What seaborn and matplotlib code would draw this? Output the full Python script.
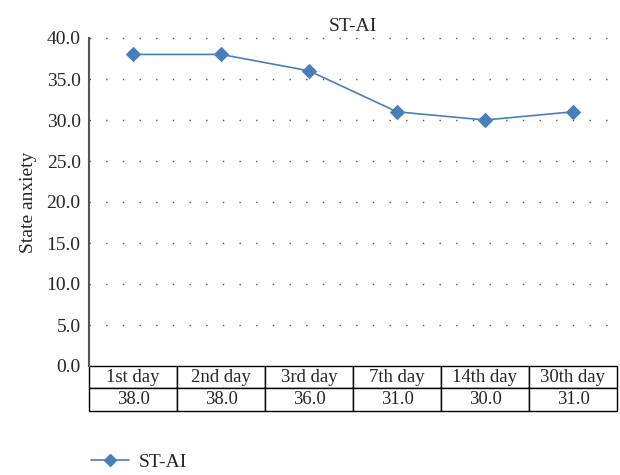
import matplotlib
matplotlib.use("Agg")
import matplotlib.pyplot as plt
import seaborn as sns
import pandas as pd
from matplotlib.lines import Line2D

# data
days = ["1st day", "2nd day", "3rd day", "7th day", "14th day", "30th day"]
state_anxiety = [38.0, 38.0, 36.0, 31.0, 30.0, 31.0]
series_name = "ST-AI"
y_ticks = [0, 5, 10, 15, 20, 25, 30, 35, 40]

sns.set_style("white")
plt.rcParams['font.family'] = ['Liberation Serif', 'DejaVu Serif']

line_color = "#4a7ebb"
fs = 14

fig = plt.figure(figsize=(6.2, 4.75), dpi=100)
ax = fig.add_axes([89 / 620, 1 - 366 / 475, 528 / 620, 328 / 475])

df = pd.DataFrame({"day": days, "value": state_anxiety})
sns.lineplot(data=df, x="day", y="value", ax=ax, color=line_color,
             marker="D", markersize=7, markeredgecolor=line_color,
             linewidth=1.2, sort=False)

ax.set_xlim(-0.5, len(days) - 0.5)
ax.set_ylim(0, 40)
ax.set_yticks(y_ticks)
ax.set_yticklabels([f"{v:.1f}" for v in y_ticks], fontsize=fs)
ax.set_xticks([])
ax.set_xlabel("")
ax.set_ylabel("State anxiety", fontsize=fs, labelpad=7)
ax.set_title(series_name, fontsize=fs, pad=5)
ax.tick_params(axis='y', length=0, pad=6)

# dotted horizontal gridlines
for v in y_ticks[1:]:
    ax.axhline(v, color="#555555", linestyle=(0, (1, 11)), linewidth=1.0,
               zorder=0, clip_on=False)

for side in ["top", "right", "bottom"]:
    ax.spines[side].set_visible(False)
ax.spines["left"].set_color("#555555")
ax.spines["left"].set_linewidth(1.5)

# data table under the axis
tbl = ax.table(cellText=[days, [f"{v:.1f}" for v in state_anxiety]],
               cellLoc="center", bbox=[0, -0.137, 1, 0.137])
tbl.auto_set_font_size(False)
tbl.set_fontsize(13.5)
for cell in tbl.get_celld().values():
    cell.set_edgecolor("black")
    cell.set_linewidth(1.0)

# legend at bottom-left
handle = Line2D([], [], color=line_color, marker="D", markersize=6,
                linewidth=1.2)
fig.legend([handle], [series_name], loc="center left",
           bbox_to_anchor=(73 / 620, 1 - 462 / 475), frameon=False,
           fontsize=fs, handlelength=2.0, handletextpad=0.5)

fig.savefig("out.png", dpi=100)
